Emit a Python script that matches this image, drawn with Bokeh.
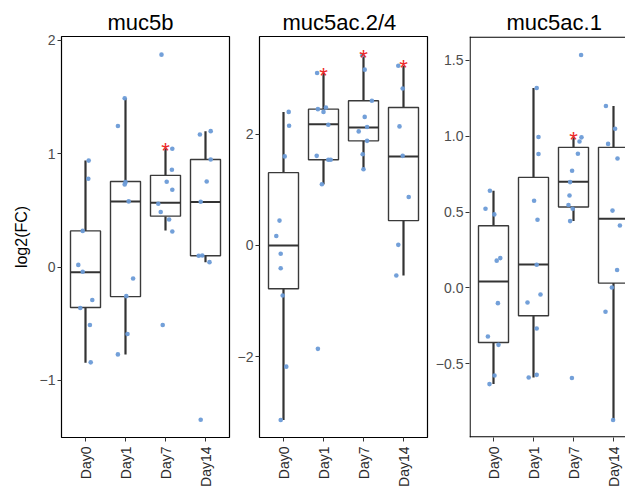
import math
from bokeh.plotting import figure
from bokeh.layouts import row
from bokeh.models import FixedTicker
from bokeh.embed import file_html
from bokeh.resources import INLINE

days = ["Day0", "Day1", "Day7", "Day14"]
genes = ["muc5b", "muc5ac.2/4", "muc5ac.1"]

# ---------------- muc5b ----------------
muc5b_y = [
    [0.94, 0.78, 0.32, 0.02, -0.04, -0.29, -0.36, -0.51, -0.84],
    [1.49, 1.245, 0.75, 0.73, 0.58, -0.10, -0.256, -0.59, -0.77],
    [1.875, 1.045, 0.86, 0.754, 0.683, 0.56, 0.486, 0.42, 0.315, -0.51],
    [1.20, 1.17, 0.95, 0.756, 0.577, 0.10, 0.103, 0.044, -1.347],
]
muc5b_dx = [
    [0.08, 0.07, -0.07, -0.18, -0.07, 0.17, -0.13, 0.11, 0.13],
    [-0.02, -0.19, 0.0, -0.02, 0.08, 0.19, 0.02, 0.05, -0.19],
    [-0.10, 0.17, 0.16, 0.03, 0.17, -0.18, -0.12, 0.09, 0.17, -0.07],
    [0.13, -0.14, 0.13, 0.03, -0.12, -0.17, -0.08, 0.10, -0.12],
]
muc5b_lo = [-0.844, -0.77, 0.324, 0.044]
muc5b_q1 = [-0.356, -0.26, 0.45, 0.10]
muc5b_med = [-0.044, 0.58, 0.568, 0.574]
muc5b_q3 = [0.32, 0.756, 0.81, 0.95]
muc5b_hi = [0.94, 1.49, 1.05, 1.20]
muc5b_star = [None, None, 1.06, None]

# ---------------- muc5ac.2/4 ----------------
muc5ac24_y = [
    [2.40, 2.15, 1.60, 0.446, 0.17, -0.15, -0.41, -0.90, -2.18, -3.14],
    [3.10, 2.45, 2.48, 2.40, 2.17, 1.61, 1.54, 1.54, 1.10, -1.86],
    [3.42, 3.16, 2.60, 2.31, 2.13, 2.05, 1.88, 1.64, 1.37],
    [3.23, 2.82, 2.14, 1.61, 0.87, 0.01, -0.54],
]
muc5ac24_dx = [
    [0.13, 0.14, 0.03, -0.10, -0.18, -0.07, -0.07, -0.02, 0.07, -0.07],
    [-0.16, -0.14, 0.06, 0.0, 0.12, -0.17, 0.12, 0.18, -0.04, -0.14],
    [-0.03, 0.03, 0.21, 0.03, 0.09, -0.12, 0.09, -0.02, 0.0],
    [-0.13, -0.02, -0.10, -0.02, 0.13, -0.13, -0.18],
]
muc5ac24_lo = [-3.14, 1.10, 1.37, -0.54]
muc5ac24_q1 = [-0.78, 1.54, 1.88, 0.446]
muc5ac24_med = [0.0, 2.18, 2.12, 1.60]
muc5ac24_q3 = [1.308, 2.45, 2.60, 2.48]
muc5ac24_hi = [2.40, 3.10, 3.42, 3.23]
muc5ac24_star = [None, 3.11, 3.44, 3.26]

# ---------------- muc5ac.1 ----------------
muc5ac1_y = [
    [0.641, 0.522, 0.485, 0.18, 0.197, -0.10, -0.32, -0.375, -0.577, -0.634],
    [1.318, 0.995, 0.883, 0.575, 0.45, 0.153, -0.043, -0.096, -0.267, -0.573, -0.59],
    [1.536, 0.993, 0.966, 0.885, 0.773, 0.698, 0.61, 0.547, 0.522, 0.441, -0.594],
    [1.20, 1.05, 0.95, 0.854, 0.51, 0.412, 0.118, 0.003, -0.157, -0.871],
]
muc5ac1_dx = [
    [-0.09, -0.20, 0.02, 0.08, 0.17, 0.11, -0.14, 0.125, 0.025, -0.10],
    [0.08, 0.125, 0.125, 0.015, 0.10, 0.08, 0.175, -0.15, 0.08, 0.08, -0.12],
    [0.19, 0.20, 0.15, 0.11, -0.035, -0.085, -0.10, -0.125, -0.02, -0.085, -0.04],
    [-0.19, 0.04, -0.135, 0.10, -0.025, 0.16, 0.09, -0.04, -0.20, -0.01],
]
muc5ac1_lo = [-0.634, -0.59, 0.441, -0.871]
muc5ac1_q1 = [-0.36, -0.183, 0.534, 0.032]
muc5ac1_med = [0.043, 0.155, 0.70, 0.456]
muc5ac1_q3 = [0.41, 0.729, 0.927, 0.927]
muc5ac1_hi = [0.641, 1.318, 0.993, 1.20]
muc5ac1_star = [None, None, 0.997, None]

# axis ticks
muc5b_ticks = [-1, 0, 1, 2]
muc5b_tick_labels = ["\u22121", "0", "1", "2"]
muc5ac24_ticks = [-2, 0, 2]
muc5ac24_tick_labels = ["\u22122", "0", "2"]
muc5ac1_ticks = [-0.5, 0.0, 0.5, 1.0, 1.5]
muc5ac1_tick_labels = ["\u22120.5", "0.0", "0.5", "1.0", "1.5"]

FONT = "Liberation Sans"
PT_COLOR = "#6b9bd7"
LINE_COLOR = "#333333"
BOX_W = 0.75
FRAME_H = 401


def make_panel(title, ys, dxs, lo, q1, med, q3, hi, star, yticks, ylabels,
               yrange, xrange, width, mbl, mbr, title_off, ylabel=None, cut=False):
    p = figure(width=width, height=490, output_backend="svg", toolbar_location=None,
               x_range=xrange, y_range=yrange,
               min_border_left=mbl, min_border_right=mbr,
               min_border_top=36, min_border_bottom=53)
    p.xgrid.grid_line_color = None
    p.ygrid.grid_line_color = None
    p.background_fill_color = "white"
    p.border_fill_color = "white"

    p.title.text = title
    p.title.text_font = FONT
    p.title.text_font_size = "22px"
    p.title.text_font_style = "normal"
    p.title.text_color = "#000000"
    p.title.align = "left"
    p.title.offset = title_off
    p.title.standoff = 3

    xs = [i + 1 for i in range(len(days))]
    left = [x - BOX_W / 2 for x in xs]
    right = [x + BOX_W / 2 for x in xs]

    # whiskers
    p.segment(x0=xs, y0=q3, x1=xs, y1=hi, line_color=LINE_COLOR, line_width=2.2)
    p.segment(x0=xs, y0=lo, x1=xs, y1=q1, line_color=LINE_COLOR, line_width=2.2)
    # boxes
    p.quad(left=left, right=right, bottom=q1, top=q3, fill_color="white",
           line_color="#3a3a3a", line_width=1.4)
    p.segment(x0=left, y0=med, x1=right, y1=med, line_color=LINE_COLOR, line_width=2)

    # points
    px, py = [], []
    for i, (dl, yl) in enumerate(zip(dxs, ys)):
        for d, v in zip(dl, yl):
            px.append(xs[i] + d)
            py.append(v)
    p.scatter(px, py, size=4.6, fill_color=PT_COLOR, line_color=None, fill_alpha=0.95)

    # stars
    sx = [xs[i] for i, s in enumerate(star) if s is not None]
    sy = [s for s in star if s is not None]
    p.text(x=sx, y=sy, text=["*"] * len(sx), text_color="#ee2a2a",
           text_font={"value": FONT}, text_font_size="22px", text_align="center",
           text_baseline="alphabetic", y_offset=3)

    # axes
    p.xaxis.ticker = FixedTicker(ticks=xs)
    p.xaxis.major_label_overrides = {x: d for x, d in zip(xs, days)}
    p.xaxis.major_label_orientation = math.pi / 2
    p.xaxis.major_label_text_font = FONT
    p.xaxis.major_label_text_font_size = "14px"
    p.xaxis.major_label_text_color = "#2b2b2b"
    p.xaxis.major_label_standoff = 5

    p.yaxis.ticker = FixedTicker(ticks=yticks)
    p.yaxis.major_label_overrides = {t: l for t, l in zip(yticks, ylabels)}
    p.yaxis.major_label_text_font = FONT
    p.yaxis.major_label_text_font_size = "14px"
    p.yaxis.major_label_text_color = "#4d4d4d"
    p.yaxis.major_label_standoff = 2

    for ax in (p.xaxis, p.yaxis):
        ax.major_tick_out = 4
        ax.major_tick_in = 0
        ax.minor_tick_line_color = None
        ax.major_tick_line_color = LINE_COLOR
        ax.major_tick_line_width = 1
        ax.axis_line_color = None

    if ylabel:
        p.yaxis.axis_label = ylabel
        p.yaxis.axis_label_text_font = FONT
        p.yaxis.axis_label_text_font_size = "16px"
        p.yaxis.axis_label_text_font_style = "normal"
        p.yaxis.axis_label_text_color = "#000000"
        p.yaxis.axis_label_standoff = 7

    if cut:
        # panel cut off on the right: draw left, top and bottom borders only
        p.outline_line_color = None
        x0, x1 = xrange
        y0, y1 = yrange
        ex = 0.6 / 40.0
        ey = 0.6 * (y1 - y0) / FRAME_H
        p.line([x0 + ex, x0 + ex], [y0, y1], line_color="black", line_width=1.2)
        p.line([x0, x1], [y1 - ey, y1 - ey], line_color="black", line_width=1.2)
        p.line([x0, x1], [y0 + ey, y0 + ey], line_color="black", line_width=1.2)
    else:
        p.outline_line_color = "black"
        p.outline_line_width = 1.2
        p.outline_line_alpha = 1.0
    return p


p1 = make_panel(genes[0], muc5b_y, muc5b_dx, muc5b_lo, muc5b_q1, muc5b_med, muc5b_q3,
                muc5b_hi, muc5b_star, muc5b_ticks, muc5b_tick_labels,
                (-1.503, 2.035), (0.4, 4.6), 231, 61, 2, 46, ylabel="log2(FC)")
p2 = make_panel(genes[1], muc5ac24_y, muc5ac24_dx, muc5ac24_lo, muc5ac24_q1, muc5ac24_med,
                muc5ac24_q3, muc5ac24_hi, muc5ac24_star, muc5ac24_ticks, muc5ac24_tick_labels,
                (-3.454, 3.756), (0.4, 4.6), 198, 28, 2, 23)
p3 = make_panel(genes[2], muc5ac1_y, muc5ac1_dx, muc5ac1_lo, muc5ac1_q1, muc5ac1_med,
                muc5ac1_q3, muc5ac1_hi, muc5ac1_star, muc5ac1_ticks, muc5ac1_tick_labels,
                (-0.986, 1.658), (0.4, 4.3), 196, 40, 0, 37, cut=True)

layout = row(p1, p2, p3, spacing=0)
open("out.html", "w").write(file_html(layout, INLINE))
